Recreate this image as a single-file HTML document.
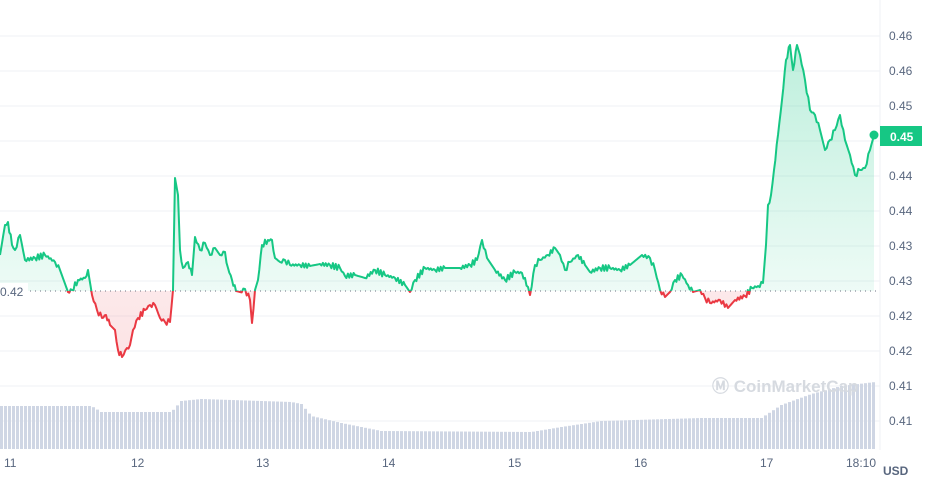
<!DOCTYPE html><html><head><style>body{margin:0;background:#fff}svg{display:block;font-family:"Liberation Sans",sans-serif}</style></head><body>
<svg width="930" height="491" viewBox="0 0 930 491">
<defs>
<linearGradient id="g" x1="0" y1="0" x2="0" y2="1"><stop offset="0" stop-color="#16c784" stop-opacity="0.28"/><stop offset="1" stop-color="#16c784" stop-opacity="0.02"/></linearGradient>
<linearGradient id="r" x1="0" y1="0" x2="0" y2="1"><stop offset="0" stop-color="#ea3943" stop-opacity="0.01"/><stop offset="1" stop-color="#ea3943" stop-opacity="0.14"/></linearGradient>
<clipPath id="up"><rect x="0" y="0" width="880" height="291"/></clipPath>
<clipPath id="dn"><rect x="0" y="291" width="880" height="200"/></clipPath>
</defs>
<g stroke="#eff2f5" stroke-width="1">
<line x1="0" y1="36" x2="880" y2="36"/><line x1="0" y1="71" x2="880" y2="71"/><line x1="0" y1="106" x2="880" y2="106"/><line x1="0" y1="141" x2="880" y2="141"/><line x1="0" y1="176" x2="880" y2="176"/><line x1="0" y1="211" x2="880" y2="211"/><line x1="0" y1="246" x2="880" y2="246"/><line x1="0" y1="281" x2="880" y2="281"/><line x1="0" y1="316" x2="880" y2="316"/><line x1="0" y1="351" x2="880" y2="351"/><line x1="0" y1="386" x2="880" y2="386"/><line x1="0" y1="421" x2="880" y2="421"/>
<line x1="880" y1="0" x2="880" y2="450"/>
</g>
<g id="vol" fill="#cfd6e4"></g>
<text x="712" y="392" font-size="17" fill="#d6dae0" font-weight="bold">Ⓜ CoinMarketCap</text>
<g id="lines"></g>
<line x1="0" y1="291" x2="880" y2="291" stroke="#6b7280" stroke-dasharray="1,4" stroke-width="1"/>
<rect x="0" y="283" width="28" height="16" fill="#fff"/>
<text x="0" y="296" font-size="12" fill="#58667e">0.42</text>
<circle cx="874" cy="135" r="4.5" fill="#16c784"/>
<rect x="880" y="126" width="42" height="20" fill="#16c784"/>
<text x="890" y="141" font-size="12" font-weight="bold" fill="#fff">0.45</text>
<g font-size="12" fill="#58667e">
<text x="889" y="40">0.46</text><text x="889" y="75">0.46</text><text x="889" y="110">0.45</text><text x="889" y="180">0.44</text><text x="889" y="215">0.44</text><text x="889" y="250">0.43</text><text x="889" y="285">0.43</text><text x="889" y="320">0.42</text><text x="889" y="355">0.42</text><text x="889" y="390">0.41</text><text x="889" y="425">0.41</text>
<text x="4" y="467">11</text><text x="131" y="467">12</text><text x="256" y="467">13</text><text x="382" y="467">14</text><text x="508" y="467">15</text><text x="634" y="467">16</text><text x="760" y="467">17</text><text x="846" y="467">18:10</text>
</g>
<text x="883" y="475" font-size="12" font-weight="bold" fill="#58667e">USD</text>
</svg>
<script>
var P=[[0,255],[5,225],[8,222],[12,245],[15,250],[20,235],[25,260],[35,258],[45,255],[55,262],[60,270],[68,292],[72,290],[78,280],[85,278],[88,270],[92,295],[97,310],[102,318],[106,315],[110,325],[115,330],[118,350],[122,357],[127,348],[130,345],[133,330],[138,318],[145,310],[150,305],[155,305],[160,318],[165,322],[170,322],[173,290],[175,178],[178,195],[180,250],[183,268],[188,262],[192,275],[195,237],[200,250],[205,243],[210,255],[215,248],[220,255],[225,252],[228,268],[232,280],[236,291],[240,292],[245,289],[250,300],[252,323],[255,290],[258,280],[262,245],[268,240],[272,240],[275,258],[280,262],[285,260],[290,265],[300,265],[310,266],[320,264],[330,265],[340,268],[345,276],[355,275],[365,278],[375,270],[385,275],[395,278],[405,285],[410,292],[415,280],[425,268],[435,270],[445,268],[460,268],[470,265],[477,260],[482,240],[487,258],[495,270],[505,280],[515,272],[522,273],[528,287],[530,295],[535,265],[540,260],[548,255],[555,248],[560,255],[565,270],[570,262],[578,255],[585,265],[590,272],[600,268],[610,268],[620,270],[630,265],[642,255],[650,258],[655,270],[660,290],[665,297],[670,292],[675,280],[682,275],[688,285],[693,292],[700,290],[705,298],[710,303],[720,300],[728,308],[735,300],[745,296],[752,288],[758,286],[763,283],[766,245],[768,205],[771,195],[774,170],[778,135],[782,100],[786,60],[790,45],[793,70],[797,45],[800,55],[805,80],[810,110],[815,115],[820,130],[825,150],[830,140],[835,130],[840,115],[845,140],[850,155],[855,175],[860,170],[865,168],[870,150],[874,135]];
var Q=[];for(var i=0;i<P.length-1;i++){var a=P[i],b=P[i+1];var n=Math.max(1,Math.round((b[0]-a[0])/1.5));for(var k=0;k<n;k++){var t=k/n;var j=(k%2?1:-1)*((i*7+k*5)%5)*0.7;Q.push([a[0]+(b[0]-a[0])*t,a[1]+(b[1]-a[1])*t+(k?j:0)]);}}Q.push(P[P.length-1]);
var d=Q.map(function(p,i){return(i?'L':'M')+p[0].toFixed(1)+' '+p[1].toFixed(1)}).join('');
var area=d+'L874 291L0 291Z';
var ns='http://www.w3.org/2000/svg',L=document.getElementById('lines');
function add(tag,at){var e=document.createElementNS(ns,tag);for(var k in at)e.setAttribute(k,at[k]);L.appendChild(e);}
add('path',{d:area,fill:'url(#g)','clip-path':'url(#up)'});
add('path',{d:area,fill:'url(#r)','clip-path':'url(#dn)'});
add('path',{d:d,fill:'none',stroke:'#16c784','stroke-width':2,'clip-path':'url(#up)','stroke-linejoin':'round'});
add('path',{d:d,fill:'none',stroke:'#ea3943','stroke-width':2,'clip-path':'url(#dn)','stroke-linejoin':'round'});
var V=[[0,406],[90,406],[100,412],[170,412],[180,401],[200,399],[290,402],[300,404],[310,416],[340,423],[380,431],[530,432],[560,427],[600,421],[700,418],[760,418],[780,405],[810,394],[840,386],[874,382]];
var G=document.getElementById('vol');
for(var x=0;x<875;x+=4){var y;for(var i=0;i<V.length-1;i++){if(x>=V[i][0]&&x<=V[i+1][0]){y=V[i][1]+(V[i+1][1]-V[i][1])*(x-V[i][0])/(V[i+1][0]-V[i][0]);break;}}if(y===undefined)y=382;var e=document.createElementNS(ns,'rect');e.setAttribute('x',x);e.setAttribute('y',y);e.setAttribute('width',3);e.setAttribute('height',449-y);G.appendChild(e);}
</script>
</body></html>
